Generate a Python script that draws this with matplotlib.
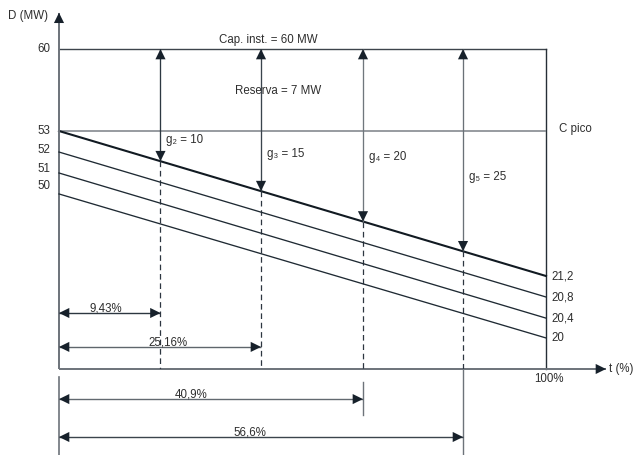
import numpy as np
import matplotlib
matplotlib.use("Agg")
import matplotlib.pyplot as plt
from matplotlib.transforms import blended_transform_factory

plt.rcParams['font.family'] = ['Liberation Sans', 'DejaVu Sans']
plt.rcParams['font.size'] = 8.3

# ---------------- values ----------------
cap_installed = 60                       # MW
peak_load = 53                           # MW ("C pico")
unit_names = ["g₂", "g₃", "g₄", "g₅"]
unit_sizes = [10, 15, 20, 25]            # MW
time_pct = [9.43, 25.16, 40.9, 56.6]     # % of time
time_labels = ["9,43%", "25,16%", "40,9%", "56,6%"]
start_loads = [53, 52, 51, 50]           # MW at t = 0
end_loads = [21.2, 20.8, 20.4, 20]       # MW at t = 100 %
end_labels = ["21,2", "20,8", "20,4", "20"]

# ---------------- schematic layout (diagram not to scale) ----------------
X_SLOTS = [0.0, 0.2084, 0.4148, 0.6242, 0.8296, 1.0]   # axes x for 0, time_pct..., 100
START_POS = [0.74375, 0.678, 0.6125, 0.547]            # axes y of each curve at t = 0
END_POS = [0.2906, 0.225, 0.159, 0.097]                # axes y of each curve at t = 100
G_LABEL_Y = [0.716, 0.672, 0.6625, 0.60]
DIM_Y = [0.175, 0.069, -0.094, -0.2125]
DIM_LABEL_DX = [-0.008, 0.017, -0.041, -0.023]
EXTENSIONS = {2: (-0.041, -0.144), 3: (-0.003, -0.27)}
LEFT_DY = [0, 0, 1.5, 3.0, 5.8]

INK = '#17212b'
GREY = '#6d737a'
TXT = '#2e2e2e'


def interp_scale(values, positions):
    v = np.asarray(values, float)
    p = np.asarray(positions, float)
    order = np.argsort(v)
    v, p = v[order], p[order]
    return (lambda a: np.interp(a, v, p)), (lambda a: np.interp(a, p, v))


# x: time percentages placed on evenly spread slots
x_fwd, x_inv = interp_scale([0] + time_pct + [100], X_SLOTS)

# y (main): capacity, peak, top curve and the points where each unit's arrow lands
tips = [cap_installed - g for g in unit_sizes]
tip_pos = [START_POS[0] + (END_POS[0] - START_POS[0]) * s for s in X_SLOTS[1:5]]
y_fwd, y_inv = interp_scale([0, end_loads[0]] + tips + [peak_load, cap_installed],
                            [0, END_POS[0]] + tip_pos + [START_POS[0], 1.0])

# y (secondary): the three lower load curves
y2_fwd, y2_inv = interp_scale([0] + end_loads[1:] + start_loads[1:] + [cap_installed],
                              [0] + END_POS[1:] + START_POS[1:] + [1.0])

fig = plt.figure(figsize=(6.36, 4.55), dpi=100)
rect = [59 / 636, 1 - 369 / 455, 487 / 636, 320 / 455]
ax = fig.add_axes(rect)
ax.set_xscale('function', functions=(x_fwd, x_inv))
ax.set_yscale('function', functions=(y_fwd, y_inv))
ax.set_xlim(0, 100)
ax.set_ylim(0, cap_installed)
ax2 = fig.add_axes(rect, sharex=ax)
ax2.set_yscale('function', functions=(y2_fwd, y2_inv))
ax2.set_ylim(0, cap_installed)
ax2.patch.set_visible(False)
for a in (ax, ax2):
    a.set_axis_off()

tr_xd_ya = blended_transform_factory(ax.transData, ax.transAxes)
tr_xa_yd = blended_transform_factory(ax.transAxes, ax.transData)
tr2_xa_yd = blended_transform_factory(ax2.transAxes, ax2.transData)

HEAD = 'head_length=0.55,head_width=0.27'


def arrow(axis, start, end, coords, shaft_color, lw, heads='-|>', ls='-'):
    axis.plot([start[0], end[0]], [start[1], end[1]], transform=coords, color=shaft_color,
              lw=lw, ls=ls, clip_on=False, solid_capstyle='butt')
    axis.annotate('', xy=end, xytext=start, xycoords=coords, textcoords=coords,
                  annotation_clip=False,
                  arrowprops=dict(arrowstyle=f'{heads},{HEAD}', color=INK, lw=0,
                                  shrinkA=0, shrinkB=0, mutation_scale=13.5))


# frame: installed capacity and 100 % boundary
ax.plot([0, 100], [cap_installed, cap_installed], color='#3d444b', lw=1.0, clip_on=False)
ax.plot([100, 100], [0, cap_installed], color='#262e36', lw=1.0, clip_on=False)
# peak load
ax.plot([0, 100], [peak_load, peak_load], color='#7b8086', lw=1.1)

# load-duration curves
ax.plot([0, 100], [start_loads[0], end_loads[0]], color='#111a22', lw=1.5, clip_on=False)
for s, e in zip(start_loads[1:], end_loads[1:]):
    ax2.plot([0, 100], [s, e], color='#1f2a33', lw=0.95, clip_on=False)

# coordinate axes with arrow heads
arrow(ax, (0, 0), (0, 1.1134), ax.transAxes, GREY, 1.4)
arrow(ax, (0, 0), (1.1232, 0), ax.transAxes, GREY, 1.4)
ax.plot([0, 0], [-0.025, -0.27], transform=ax.transAxes, color=GREY, lw=1.2, clip_on=False)

# unit arrows from installed capacity down to the top curve
g_shafts = ['#2d3842', '#3a444d', '#70777d', '#6a7177']
for i, (t, g) in enumerate(zip(time_pct, unit_sizes)):
    arrow(ax, (t, cap_installed), (t, cap_installed - g), ax.transData, g_shafts[i], 0.95,
          heads='<|-|>')
    ax.plot([t, t], [cap_installed - g, 0], color='#2d3640', lw=0.9, ls=(0, (4.5, 3)))
    ax.annotate(f"{unit_names[i]} = {g}", xy=(t, G_LABEL_Y[i]), xycoords=tr_xd_ya,
                xytext=(4.3, 0), textcoords='offset points', ha='left', va='center',
                color=TXT)

# time dimension arrows
dim_shafts = ['#2c3640', '#5f666c', '#626970', '#3b444c']
for i, (t, lab) in enumerate(zip(time_pct, time_labels)):
    if i in EXTENSIONS:
        y0, y1 = EXTENSIONS[i]
        ax.plot([t, t], [y0, y1], transform=tr_xd_ya, color=GREY, lw=1.0, clip_on=False)
    arrow(ax, (0, DIM_Y[i]), (t, DIM_Y[i]), tr_xd_ya, dim_shafts[i], 1.0, heads='<|-|>')
    xm = X_SLOTS[i + 1] / 2 + DIM_LABEL_DX[i]
    ax.annotate(lab, xy=(xm, DIM_Y[i]), xycoords='axes fraction', xytext=(0, 1.3),
                textcoords='offset points', ha='center', va='baseline', color=TXT)

# left value labels
ax.annotate(f"{cap_installed}", xy=(0, cap_installed), xycoords=tr_xa_yd,
            xytext=(-6, LEFT_DY[0]), textcoords='offset points', ha='right', va='center', color=TXT)
ax.annotate(f"{start_loads[0]}", xy=(0, start_loads[0]), xycoords=tr_xa_yd,
            xytext=(-6, LEFT_DY[1]), textcoords='offset points', ha='right', va='center', color=TXT)
for k, s in enumerate(start_loads[1:]):
    ax2.annotate(f"{s}", xy=(0, s), xycoords=tr2_xa_yd, xytext=(-6, LEFT_DY[k + 2]),
                 textcoords='offset points', ha='right', va='center', color=TXT)

# right value labels
ax.annotate(end_labels[0], xy=(1, end_loads[0]), xycoords=tr_xa_yd, xytext=(3.6, 0),
            textcoords='offset points', ha='left', va='center', color=TXT)
for e, lab in zip(end_loads[1:], end_labels[1:]):
    ax2.annotate(lab, xy=(1, e), xycoords=tr2_xa_yd, xytext=(3.6, 0),
                 textcoords='offset points', ha='left', va='center', color=TXT)

ax.annotate("C pico", xy=(1, peak_load), xycoords=tr_xa_yd, xytext=(9.4, 1.4),
            textcoords='offset points', ha='left', va='center', color=TXT)
ax.text(0.4292, 1.028, f"Cap. inst. = {cap_installed} MW", transform=ax.transAxes,
        ha='center', va='center', color=TXT)
ax.text(0.4497, 0.869, f"Reserva = {cap_installed - peak_load} MW", transform=ax.transAxes,
        ha='center', va='center', color=TXT)

ax.annotate("D (MW)", xy=(0, 1.104), xycoords='axes fraction', xytext=(-8, 0),
            textcoords='offset points', ha='right', va='center', color=TXT)
ax.annotate("t (%)", xy=(1.1232, 0), xycoords='axes fraction', xytext=(2.2, 0),
            textcoords='offset points', ha='left', va='center', color=TXT)
ax.annotate("100%", xy=(100, 0), xycoords=tr_xd_ya, xytext=(2, -7.2),
            textcoords='offset points', ha='center', va='center', color=TXT)

fig.savefig('out.png', dpi=100)
